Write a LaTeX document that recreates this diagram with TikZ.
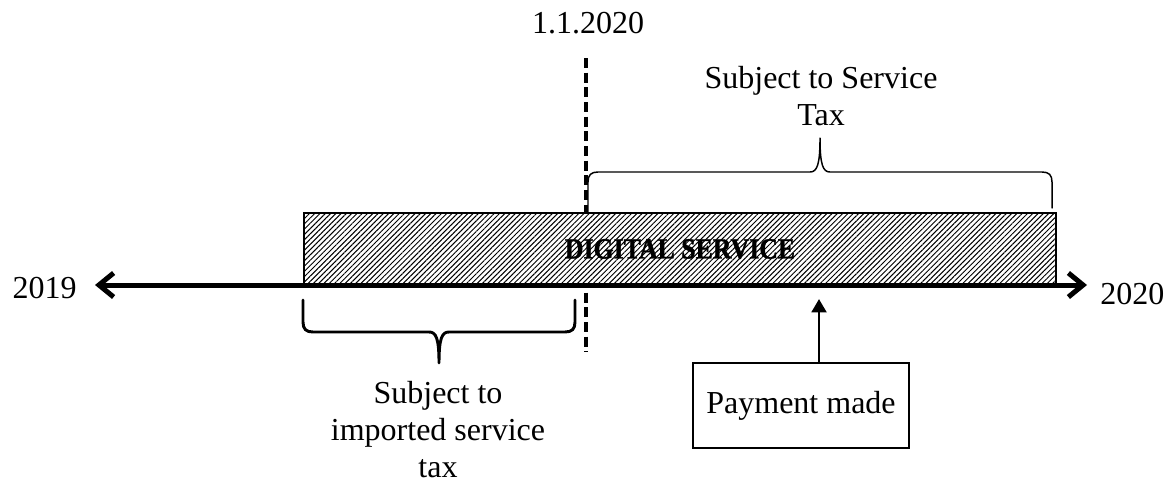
\documentclass[tikz,border=0pt]{standalone}
\usepackage{fontspec}
\setmainfont{Liberation Serif}
\newfontfamily\heavyfont[FakeBold=1.2]{Liberation Serif Bold}
\usepackage{graphicx}
\usetikzlibrary{arrows.meta,patterns.meta}
\tikzset{
  lbl/.style={inner sep=0.75pt, align=center, font=\fontsize{24}{27.75}\selectfont},
  brace/.style={line cap=round, line join=round},
}

\begin{document}
\begin{tikzpicture}[x=0.75pt,y=0.75pt,yscale=-1,xscale=1]
\useasboundingbox (0,0) rectangle (1176,486);
% cut-off date
\coordinate (cuttop) at (586,58);
\coordinate (cutbot) at (586,352);
\draw [line width=2.6pt, dash pattern={on 7.5pt off 3.5pt}] (cuttop) -- (cutbot);
\draw (588,33) node [lbl, anchor=base] (date) {1.1.2020};
% service period
\draw (680,249) node [draw, line width=2.2pt, preaction={fill=white}, pattern={Lines[angle=45,distance=2.8pt,line width=0.75pt]}, minimum width=564pt, minimum height=54pt, inner sep=0pt] (svc) {\fontsize{22}{26}\heavyfont\scalebox{0.88}[1]{DIGITAL SERVICE}};
% time axis
\coordinate (past) at (95,285);
\coordinate (future) at (1087,285);
\draw [line width=3.75pt, {Straight Barb[length=11pt,width=18pt]}-{Straight Barb[length=11pt,width=18pt]}] (past) -- (future);
\draw (78,298) node [lbl, anchor=base east] (y2019) {2019};
\draw (1099,304) node [lbl, anchor=base west] (y2020) {2020};
% braces
\draw [brace, line width=1.1pt] (588,212) -- (588,182) .. controls (588,175) and (591,172) .. (598,172) -- (810,172) .. controls (817,172) and (820,165) .. (820,138) .. controls (820,165) and (823,172) .. (830,172) -- (1042,172) .. controls (1049,172) and (1052,175) .. (1052,182) -- (1052,208) ;
\draw [brace, line width=2.2pt] (303,300) -- (303,322) .. controls (303,329) and (306,332) .. (313,332) -- (429,332) .. controls (436,332) and (439,338) .. (439,363) .. controls (439,338) and (442,332) .. (449,332) -- (565,332) .. controls (572,332) and (575,329) .. (575,322) -- (575,300) ;
\draw (821,125) node [lbl, anchor=base] (stlbl) {Subject to Service\\Tax};
\draw (438,477) node [lbl, anchor=base] (implbl) {Subject to\\imported service\\tax};
% payment
\draw (801,405.5) node [lbl, draw, line width=1.5pt, minimum width=162pt, minimum height=64pt] (pay) {Payment made};
\coordinate (paid) at (819,299);
\draw [line width=2.2pt, -{Triangle[length=10pt,width=11pt]}] (pay.north -| paid) -- (paid);
\end{tikzpicture}
\end{document}
